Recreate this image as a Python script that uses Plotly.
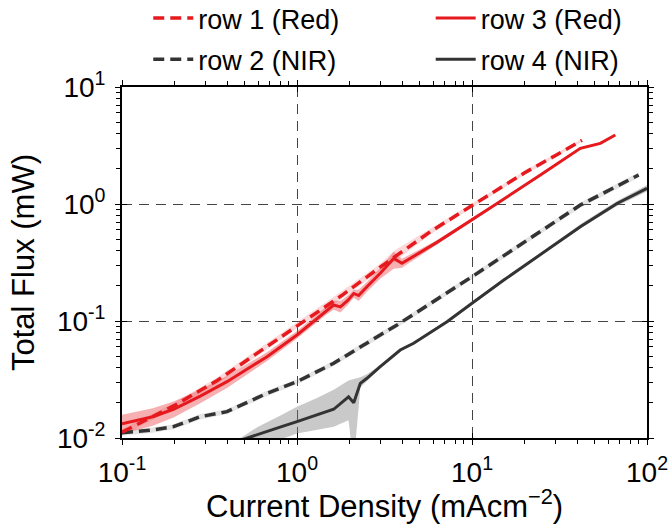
import plotly.graph_objects as go

# ---------------- data ----------------
# row 1 (Red), dashed
x1 = [0.1, 0.2, 0.35, 0.6, 1.0, 1.8, 3.0, 3.6, 5.78, 10, 20, 30, 42.5]
y1 = [0.0112, 0.019, 0.031, 0.054, 0.092, 0.165, 0.29, 0.35, 0.58, 0.97, 1.85, 2.6, 3.5]
up1 = [0.0119, 0.0201, 0.0329, 0.0572, 0.0975, 0.18, 0.31, 0.40, 0.61, 1.01, 1.92, 2.69, 3.6]
lo1 = [0.0105, 0.0179, 0.0291, 0.0508, 0.0865, 0.155, 0.27, 0.32, 0.55, 0.93, 1.78, 2.51, 3.4]

# row 2 (NIR), dashed
x2 = [0.1, 0.15, 0.197, 0.28, 0.398, 0.674, 1.0, 1.62, 2.99, 3.73, 10, 20, 41.6, 89.6]
y2 = [0.0111, 0.0117, 0.0125, 0.0152, 0.0168, 0.0241, 0.0303, 0.0435, 0.076, 0.0925, 0.239, 0.475, 0.98, 1.77]
up2 = [0.0117, 0.0123, 0.0131, 0.016, 0.0176, 0.0253, 0.0318, 0.0457, 0.080, 0.097, 0.251, 0.50, 1.03, 1.86]
lo2 = [0.0105, 0.0111, 0.0119, 0.0144, 0.016, 0.0229, 0.0288, 0.0413, 0.072, 0.088, 0.227, 0.45, 0.93, 1.68]

# row 3 (Red), solid
x3 = [0.1, 0.15, 0.197, 0.28, 0.398, 0.674, 1.0, 1.48, 1.62, 1.77, 1.95, 2.11, 2.25, 2.51,
      2.99, 3.57, 3.98, 6.3, 10, 13.9, 24.6, 41.6, 54.1, 65.9]
y3 = [0.0132, 0.0152, 0.0176, 0.0228, 0.0303, 0.0495, 0.076, 0.124, 0.137, 0.132, 0.150, 0.172, 0.165, 0.196,
      0.256, 0.343, 0.311, 0.47, 0.73, 1.01, 1.77, 2.99, 3.30, 3.89]
up3 = [0.0158, 0.0180, 0.0205, 0.026, 0.034, 0.054, 0.082, 0.135, 0.150, 0.148, 0.165, 0.185, 0.185, 0.215,
       0.285, 0.39, 0.34, 0.49, 0.75, 1.04, 1.81, 3.05, 3.36, 3.95]
lo3 = [0.0108, 0.0127, 0.0150, 0.0198, 0.0268, 0.0455, 0.071, 0.114, 0.125, 0.118, 0.137, 0.158, 0.148, 0.178,
       0.230, 0.28, 0.285, 0.45, 0.71, 0.98, 1.73, 2.93, 3.24, 3.83]

# row 4 (NIR), solid
x4 = [0.45, 0.6, 0.8, 1.0, 1.3, 1.62, 1.97, 2.11, 2.3, 2.51, 2.99, 3.89, 4.64, 7.2, 10, 15.2,
      26.8, 41.6, 67.4, 100]
y4 = [0.0093, 0.0108, 0.0124, 0.0138, 0.0157, 0.0176, 0.0225, 0.0200, 0.0293, 0.0324, 0.0407,
      0.0565, 0.0645, 0.0987, 0.142, 0.224, 0.404, 0.64, 1.01, 1.36]
up4 = [0.0095, 0.0125, 0.0155, 0.0185, 0.022, 0.0258, 0.031, 0.032, 0.033, 0.035, 0.042,
       0.058, 0.066, 0.101, 0.146, 0.23, 0.415, 0.67, 1.06, 1.45]
lo4 = [0.0090, 0.0085, 0.0097, 0.0109, 0.0117, 0.0125, 0.0142, 0.0060, 0.0270, 0.0310, 0.0395,
       0.055, 0.063, 0.096, 0.138, 0.218, 0.393, 0.62, 0.96, 1.28]

series_names = ["row 1 (Red)", "row 2 (NIR)", "row 3 (Red)", "row 4 (NIR)"]

xtick_vals = [0.1, 1, 10, 100]
xtick_text = ["10<sup>-1</sup>", "10<sup>0</sup>", "10<sup>1</sup>", "10<sup>2</sup>"]
ytick_vals = [0.01, 0.1, 1, 10]
ytick_text = ["10<sup>-2</sup>", "10<sup>-1</sup>", "10<sup>0</sup>", "10<sup>1</sup>"]
x_title = "Current Density (mAcm<sup>−2</sup>)"
y_title = "Total Flux (mW)"

# minor tick positions (2..9 within each decade)
x_minor = [m * 10.0 ** e for e in (-1, 0, 1) for m in range(2, 10)]
y_minor = [m * 10.0 ** e for e in (-2, -1, 0) for m in range(2, 10)]

RED = "#e6191e"
GRAY = "#333333"

fig = go.Figure()


def band(x, lo, up, color):
    fig.add_trace(go.Scatter(
        x=list(x) + list(x)[::-1], y=list(up) + list(lo)[::-1],
        fill="toself", fillcolor=color, mode="lines", line=dict(width=0),
        showlegend=False, hoverinfo="skip"))


band(x1, lo1, up1, "rgba(235,80,85,0.22)")
band(x2, lo2, up2, "rgba(120,120,120,0.2)")
band(x3, lo3, up3, "rgba(235,80,85,0.45)")
band(x4, lo4, up4, "rgba(120,120,120,0.4)")

fig.add_trace(go.Scatter(x=x2, y=y2, mode="lines", name=series_names[1], legend="legend",
                         legendgroup="g2", legendrank=2,
                         line=dict(color=GRAY, width=3.5, dash="11px,6px")))
fig.add_trace(go.Scatter(x=x4, y=y4, mode="lines", name=series_names[3], legend="legend2",
                         legendgroup="g4", legendrank=2,
                         line=dict(color=GRAY, width=3)))
fig.add_trace(go.Scatter(x=x1, y=y1, mode="lines", name=series_names[0], legend="legend",
                         legendgroup="g1", legendrank=1,
                         line=dict(color=RED, width=3.5, dash="11px,6px")))
fig.add_trace(go.Scatter(x=x3, y=y3, mode="lines", name=series_names[2], legend="legend2",
                         legendgroup="g3", legendrank=1,
                         line=dict(color=RED, width=3)))

# empty trace that carries the overlay axes used for the inward half of the major ticks
fig.add_trace(go.Scatter(x=[], y=[], xaxis="x2", yaxis="y2", showlegend=False, hoverinfo="skip"))

axis_common = dict(
    type="log", showline=True, linecolor="black", linewidth=1.8, mirror="allticks",
    ticks="outside", ticklen=5, tickwidth=1.3, tickcolor="black",
    showgrid=True, gridcolor="#444444", gridwidth=1, griddash="10px,7px",
    zeroline=False, tickfont=dict(size=28, color="black"),
)
inner_common = dict(type="log", showline=False, showgrid=False, zeroline=False,
                    mirror="allticks", ticks="inside", ticklen=5, tickwidth=1.3,
                    tickcolor="black", showticklabels=False)

legend_common = dict(orientation="v", xanchor="left", y=1.265, yanchor="top",
                     font=dict(size=27, color="black"), bgcolor="rgba(0,0,0,0)",
                     itemwidth=40, traceorder="grouped", tracegroupgap=3)

fig.update_layout(
    width=672, height=527,
    margin=dict(l=122, r=25, t=87, b=89, autoexpand=False),
    paper_bgcolor="white", plot_bgcolor="white",
    font=dict(family="Liberation Sans, Arial, sans-serif", color="black"),
    xaxis=dict(axis_common, range=[-1, 2], tickvals=xtick_vals, ticktext=xtick_text,
               ticklabelstandoff=3,
               minor=dict(tickmode="array", tickvals=x_minor, ticks="outside", ticklen=4,
                          tickwidth=1, tickcolor="black", showgrid=False)),
    yaxis=dict(axis_common, range=[-2, 1], tickvals=ytick_vals, ticktext=ytick_text,
               ticklabelstandoff=4,
               minor=dict(tickmode="array", tickvals=y_minor, ticks="outside", ticklen=4,
                          tickwidth=1, tickcolor="black", showgrid=False),
               title=dict(text=y_title, font=dict(size=31), standoff=13)),
    xaxis2=dict(inner_common, overlaying="x", anchor="y2", range=[-1, 2], tickvals=xtick_vals),
    yaxis2=dict(inner_common, overlaying="y", anchor="x2", range=[-2, 1], tickvals=ytick_vals),
    legend=dict(legend_common, x=0.05),
    legend2=dict(legend_common, x=0.588),
    annotations=[dict(text=x_title, xref="paper", yref="paper", x=0.5, y=-66 / 351,
                      xanchor="center", yanchor="middle", showarrow=False,
                      font=dict(size=31, color="black"))],
    showlegend=True,
)

fig.write_html("out.html", config={"displayModeBar": False},
               post_script="document.body.style.margin='0';")
